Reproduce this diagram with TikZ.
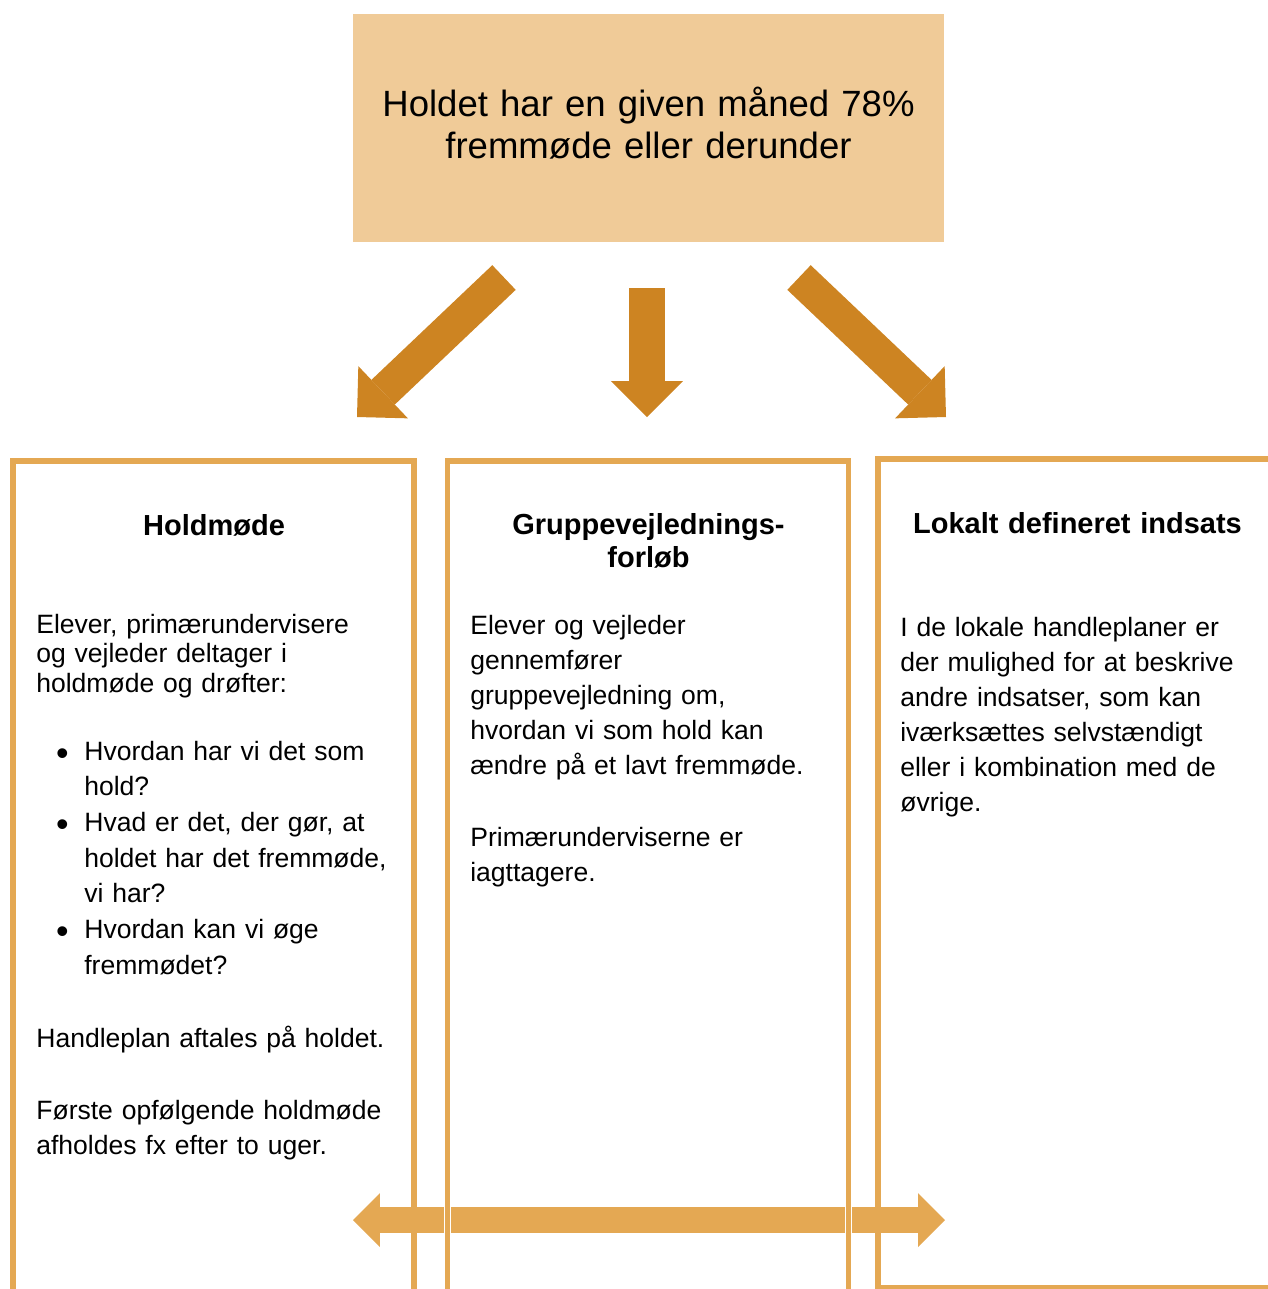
\documentclass[tikz,border=0pt]{standalone}
\usepackage{fontspec}
\setmainfont{Liberation Sans}
\usetikzlibrary{arrows.meta}

\definecolor{topfill}{HTML}{F0CB98}
\definecolor{arrowbrown}{HTML}{CD8422}
\definecolor{frameline}{HTML}{E4A853}

\newcommand{\bodyfont}[1]{\fontsize{15.1pt}{#1}\selectfont}
\newcommand{\titlefont}{\fontsize{16.5pt}{19.3pt}\selectfont\bfseries}
\newcommand{\bul}{\leavevmode\llap{\raisebox{-0.2em}{\scalebox{1.35}{\textbullet}}\hspace{8.9pt}}}

\begin{document}
\begin{tikzpicture}[x=0.02cm, y=-0.02cm,
    frame/.style={draw=frameline, line width=0.11cm, preaction={draw=white, line width=0.125cm}, rectangle, inner sep=0pt, outer sep=0pt, anchor=north west},
    bigarrow/.style={color=arrowbrown, line width=#1, -{Triangle[length=0.72cm, width=1.44cm, line width=0pt]}},
    txt/.style={anchor=base west, inner sep=0pt, align=left, text width=#1},
    head/.style={anchor=base, inner sep=0pt, align=center, text width=#1, font=\titlefont}]
        \useasboundingbox (0,0) rectangle (1268,1289);
        \clip (0,0) rectangle (1268,1289);

        % Top box
        \node[fill=topfill, minimum width=11.82cm, minimum height=4.56cm, inner sep=0pt, outer sep=0pt] (maaned) at (648.5,128) {};
        \node[anchor=base, inner sep=0pt, align=center, text width=11cm, font=\fontsize{20.8pt}{24.4pt}\selectfont] (maanedtekst) at (648.5,116) {Holdet har en given måned 78\%\\fremmøde eller derunder};

        % Arrows down
        \coordinate (venstre0) at (504,277.5);
        \coordinate (venstre1) at (357,417);
        \coordinate (midt0) at (647,288);
        \coordinate (midt1) at (647,417);
        \coordinate (hojre0) at (799,277.5);
        \coordinate (hojre1) at (946,417);
        \draw[bigarrow=0.68cm] (venstre0) -- (venstre1);
        \draw[bigarrow=0.72cm] (midt0) -- (midt1);
        \draw[bigarrow=0.68cm] (hojre0) -- (hojre1);

        % Arrow across the boxes
        \coordinate (tvaers0) at (353,1220);
        \coordinate (tvaers1) at (945,1220);
        \draw[frameline, line width=0.52cm, {Triangle[length=0.54cm, width=1.08cm, line width=0pt]}-{Triangle[length=0.54cm, width=1.08cm, line width=0pt]}] (tvaers0) -- (tvaers1);

        % Boxes
        \node[frame, minimum width=8.02cm, minimum height=17.5cm] (holdmode) at (13,461) {};
        \node[frame, minimum width=8.02cm, minimum height=17.5cm] (gruppe) at (447.5,461) {};
        \node[frame, minimum width=8.6cm, minimum height=16.58cm] (lokalt) at (878,459) {};

        % Holdmøde
        \node[head=7cm] (holdtitel) at (214,535) {Holdmøde};
        \node[txt=7.5cm, font=\bodyfont{17pt}] (holdtekst) at (36,633) {Elever, primærundervisere\\og vejleder deltager i\\holdmøde og drøfter:};
        \node[txt=6.5cm, font=\bodyfont{20.3pt}] (holdliste) at (84,760) {\bul Hvordan har vi det som\\hold?\\\bul Hvad er det, der gør, at\\holdet har det fremmøde,\\vi har?\\\bul Hvordan kan vi øge\\fremmødet?};
        \node[txt=7.5cm, font=\bodyfont{17pt}] (holdplan) at (36,1047) {Handleplan aftales på holdet.};
        \node[txt=7.5cm, font=\bodyfont{20.4pt}] (holdnaeste) at (36,1119) {Første opfølgende holdmøde\\afholdes fx efter to uger.};

        % Gruppevejledningsforløb
        \node[head=7.5cm] (gruppetitel) at (648.5,534) {Gruppevejlednings-\\forløb};
        \node[txt=7.5cm, font=\bodyfont{20pt}] (gruppetekst) at (470,634) {Elever og vejleder\\gennemfører\\gruppevejledning om,\\hvordan vi som hold kan\\ændre på et lavt fremmøde.};
        \node[txt=7.5cm, font=\bodyfont{20.4pt}] (gruppeobs) at (470,846) {Primærunderviserne er\\iagttagere.};

        % Lokalt defineret indsats
        \node[head=7.5cm] (lokaltitel) at (1077.5,533.5) {Lokalt defineret indsats};
        \node[txt=7.5cm, font=\bodyfont{20pt}] (lokaltekst) at (900,636) {I de lokale handleplaner er\\der mulighed for at beskrive\\andre indsatser, som kan\\iværksættes selvstændigt\\eller i kombination med de\\øvrige.};
    \end{tikzpicture}
\end{document}
